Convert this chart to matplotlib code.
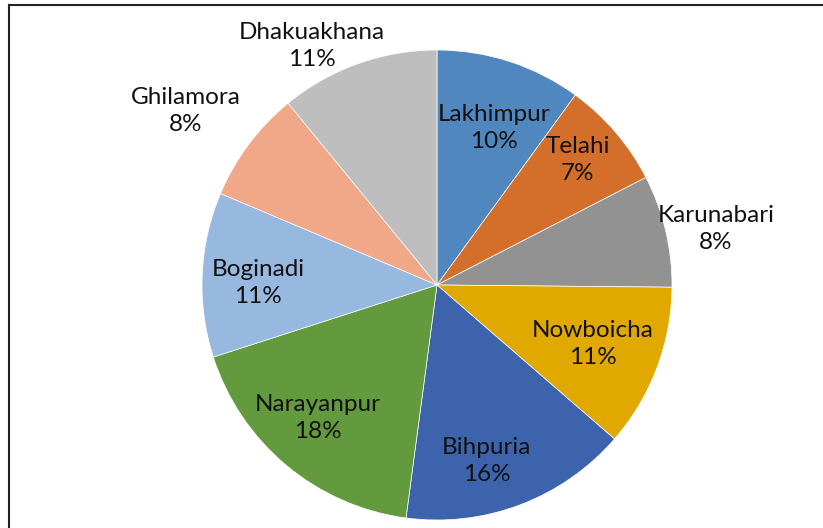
import numpy as np
import matplotlib
matplotlib.use("Agg")
import matplotlib.pyplot as plt
from matplotlib.lines import Line2D

# slice shares (percent), clockwise from 12 o'clock
places = ["Lakhimpur", "Telahi", "Karunabari", "Nowboicha", "Bihpuria",
          "Narayanpur", "Boginadi", "Ghilamora", "Dhakuakhana"]
shares = [10.0, 7.4, 7.7, 11.2, 15.7, 17.9, 11.3, 7.7, 10.9]
colors = ["#4F87BE", "#D36F2B", "#929292", "#E1A800", "#3C63AC",
          "#629A3D", "#97B8DF", "#F0A889", "#BEBEBE"]

# label placement: fraction of radius and angle nudge (deg, clockwise)
lab_r = [0.71, 0.80, 1.21, 0.71, 0.78, 0.76, 0.76, 1.30, 1.15]
lab_da = [2, -1, 2, 0, 5, 2, -2, -2, -8]

W, H = 823, 528
fig = plt.figure(figsize=(W / 100, H / 100), dpi=100)
plt.rcParams["font.family"] = ["Lato", "DejaVu Sans"]

cx, cy, R = 437, 285, 235
ax = fig.add_axes([(cx - R) / W, (H - cy - R) / H, 2 * R / W, 2 * R / H])
wedges, _ = ax.pie(shares, colors=colors, startangle=90, counterclock=False,
                   radius=1, wedgeprops=dict(edgecolor="white", linewidth=0.5))
ax.set_xlim(-1, 1)
ax.set_ylim(-1, 1)
ax.set_aspect("equal")
ax.axis("off")

total = sum(shares)
for w, name, v, rf, da in zip(wedges, places, shares, lab_r, lab_da):
    mid = np.deg2rad((w.theta1 + w.theta2) / 2 - da)
    x, y = rf * np.cos(mid), rf * np.sin(mid)
    pct = int(round(100 * v / total))
    ax.text(x, y, f"{name}\n{pct}%", ha="center", va="center", fontsize=17.5,
            linespacing=1.35, color="#111111", clip_on=False)

# chart border (only the top and left edges are visible in the crop)
fig.add_artist(Line2D([8.5 / W, 8.5 / W], [0, 1 - 5 / H], transform=fig.transFigure,
                      color="#222222", linewidth=1.5))
fig.add_artist(Line2D([8.5 / W, 1], [1 - 5 / H, 1 - 5 / H], transform=fig.transFigure,
                      color="#222222", linewidth=1.5))

fig.savefig("out.png", dpi=100, facecolor="white")
